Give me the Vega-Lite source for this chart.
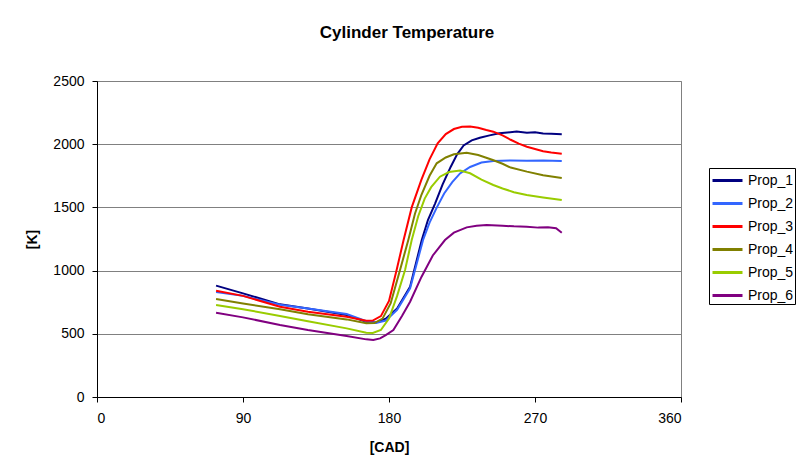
{
  "$schema": "https://vega.github.io/schema/vega-lite/v6.json",
  "width": 584,
  "height": 316,
  "autosize": "none",
  "padding": {"left": 97, "top": 81, "right": 116, "bottom": 72},
  "background": "white",
  "title": {
    "text": "Cylinder Temperature",
    "font": "Liberation Sans",
    "fontSize": 17,
    "fontWeight": "bold",
    "color": "black",
    "anchor": "middle",
    "baseline": "alphabetic",
    "offset": 19,
    "dx": 18
  },
  "config": {
    "view": {"stroke": "#808080", "strokeWidth": 1},
    "font": "Liberation Sans"
  },
  "datasets": {
    "temps": [
      {"s":"Prop_1","x":73.4,"y":881},{"s":"Prop_1","x":90,"y":820},{"s":"Prop_1","x":112.8,"y":733},{"s":"Prop_1","x":130,"y":700},{"s":"Prop_1","x":153.9,"y":649},{"s":"Prop_1","x":166,"y":596},{"s":"Prop_1","x":172,"y":590},{"s":"Prop_1","x":178,"y":620},{"s":"Prop_1","x":185,"y":700},{"s":"Prop_1","x":193,"y":873},{"s":"Prop_1","x":200.2,"y":1242},{"s":"Prop_1","x":204,"y":1400},{"s":"Prop_1","x":208.4,"y":1530},{"s":"Prop_1","x":213,"y":1680},{"s":"Prop_1","x":218,"y":1820},{"s":"Prop_1","x":222,"y":1920},{"s":"Prop_1","x":226,"y":1990},{"s":"Prop_1","x":231,"y":2030},{"s":"Prop_1","x":236,"y":2051},{"s":"Prop_1","x":242,"y":2070},{"s":"Prop_1","x":248,"y":2086},{"s":"Prop_1","x":253,"y":2092},{"s":"Prop_1","x":258.7,"y":2100},{"s":"Prop_1","x":265,"y":2090},{"s":"Prop_1","x":270,"y":2095},{"s":"Prop_1","x":275,"y":2085},{"s":"Prop_1","x":280,"y":2082},{"s":"Prop_1","x":286.5,"y":2078},

      {"s":"Prop_2","x":73.4,"y":830},{"s":"Prop_2","x":90,"y":800},{"s":"Prop_2","x":112.8,"y":730},{"s":"Prop_2","x":130,"y":700},{"s":"Prop_2","x":153.9,"y":656},{"s":"Prop_2","x":166,"y":600},{"s":"Prop_2","x":172,"y":585},{"s":"Prop_2","x":178,"y":605},{"s":"Prop_2","x":185,"y":690},{"s":"Prop_2","x":193,"y":860},{"s":"Prop_2","x":201,"y":1242},{"s":"Prop_2","x":205,"y":1380},{"s":"Prop_2","x":209.5,"y":1500},{"s":"Prop_2","x":214,"y":1610},{"s":"Prop_2","x":219,"y":1700},{"s":"Prop_2","x":223.8,"y":1769},{"s":"Prop_2","x":230,"y":1820},{"s":"Prop_2","x":237,"y":1855},{"s":"Prop_2","x":244.3,"y":1868},{"s":"Prop_2","x":255,"y":1872},{"s":"Prop_2","x":265,"y":1870},{"s":"Prop_2","x":275,"y":1872},{"s":"Prop_2","x":286.5,"y":1868},

      {"s":"Prop_3","x":73.4,"y":841},{"s":"Prop_3","x":90,"y":800},{"s":"Prop_3","x":112.8,"y":714},{"s":"Prop_3","x":130,"y":675},{"s":"Prop_3","x":153.9,"y":635},{"s":"Prop_3","x":166,"y":604},{"s":"Prop_3","x":170,"y":605},{"s":"Prop_3","x":175,"y":640},{"s":"Prop_3","x":180,"y":760},{"s":"Prop_3","x":184.7,"y":1005},{"s":"Prop_3","x":189,"y":1242},{"s":"Prop_3","x":194,"y":1500},{"s":"Prop_3","x":200,"y":1720},{"s":"Prop_3","x":205,"y":1880},{"s":"Prop_3","x":210,"y":2007},{"s":"Prop_3","x":215,"y":2080},{"s":"Prop_3","x":220,"y":2120},{"s":"Prop_3","x":225,"y":2138},{"s":"Prop_3","x":230,"y":2140},{"s":"Prop_3","x":235,"y":2130},{"s":"Prop_3","x":240,"y":2112},{"s":"Prop_3","x":244.3,"y":2099},{"s":"Prop_3","x":250,"y":2070},{"s":"Prop_3","x":255,"y":2035},{"s":"Prop_3","x":260,"y":2005},{"s":"Prop_3","x":265,"y":1980},{"s":"Prop_3","x":270,"y":1962},{"s":"Prop_3","x":275,"y":1945},{"s":"Prop_3","x":280,"y":1935},{"s":"Prop_3","x":286.5,"y":1925},

      {"s":"Prop_4","x":73.4,"y":775},{"s":"Prop_4","x":90,"y":740},{"s":"Prop_4","x":112.8,"y":694},{"s":"Prop_4","x":130,"y":655},{"s":"Prop_4","x":153.9,"y":614},{"s":"Prop_4","x":166,"y":583},{"s":"Prop_4","x":171,"y":585},{"s":"Prop_4","x":176,"y":620},{"s":"Prop_4","x":181,"y":740},{"s":"Prop_4","x":186.8,"y":1005},{"s":"Prop_4","x":191.9,"y":1242},{"s":"Prop_4","x":196,"y":1450},{"s":"Prop_4","x":200,"y":1600},{"s":"Prop_4","x":205,"y":1750},{"s":"Prop_4","x":209.4,"y":1849},{"s":"Prop_4","x":215,"y":1895},{"s":"Prop_4","x":220,"y":1920},{"s":"Prop_4","x":227.9,"y":1933},{"s":"Prop_4","x":235,"y":1915},{"s":"Prop_4","x":244,"y":1875},{"s":"Prop_4","x":250,"y":1845},{"s":"Prop_4","x":255,"y":1815},{"s":"Prop_4","x":265,"y":1783},{"s":"Prop_4","x":275,"y":1755},{"s":"Prop_4","x":286.5,"y":1732},

      {"s":"Prop_5","x":73.4,"y":728},{"s":"Prop_5","x":90,"y":695},{"s":"Prop_5","x":112.8,"y":641},{"s":"Prop_5","x":130,"y":600},{"s":"Prop_5","x":153.9,"y":543},{"s":"Prop_5","x":166,"y":509},{"s":"Prop_5","x":170,"y":506},{"s":"Prop_5","x":175,"y":530},{"s":"Prop_5","x":180,"y":620},{"s":"Prop_5","x":185,"y":800},{"s":"Prop_5","x":189.9,"y":1005},{"s":"Prop_5","x":194,"y":1242},{"s":"Prop_5","x":198,"y":1430},{"s":"Prop_5","x":202,"y":1570},{"s":"Prop_5","x":206,"y":1660},{"s":"Prop_5","x":211.4,"y":1743},{"s":"Prop_5","x":217,"y":1780},{"s":"Prop_5","x":223.8,"y":1791},{"s":"Prop_5","x":230,"y":1770},{"s":"Prop_5","x":237,"y":1720},{"s":"Prop_5","x":244.3,"y":1677},{"s":"Prop_5","x":250,"y":1650},{"s":"Prop_5","x":257,"y":1620},{"s":"Prop_5","x":264.9,"y":1598},{"s":"Prop_5","x":275,"y":1578},{"s":"Prop_5","x":286.5,"y":1558},

      {"s":"Prop_6","x":73.4,"y":667},{"s":"Prop_6","x":90,"y":630},{"s":"Prop_6","x":112.8,"y":570},{"s":"Prop_6","x":130,"y":530},{"s":"Prop_6","x":153.9,"y":482},{"s":"Prop_6","x":166,"y":456},{"s":"Prop_6","x":170.3,"y":451},{"s":"Prop_6","x":174.5,"y":464},{"s":"Prop_6","x":178,"y":490},{"s":"Prop_6","x":182.7,"y":530},{"s":"Prop_6","x":188,"y":640},{"s":"Prop_6","x":193,"y":754},{"s":"Prop_6","x":200,"y":950},{"s":"Prop_6","x":207,"y":1120},{"s":"Prop_6","x":214.5,"y":1242},{"s":"Prop_6","x":220,"y":1300},{"s":"Prop_6","x":227.9,"y":1342},{"s":"Prop_6","x":234,"y":1355},{"s":"Prop_6","x":240.2,"y":1361},{"s":"Prop_6","x":250,"y":1355},{"s":"Prop_6","x":257,"y":1350},{"s":"Prop_6","x":264.9,"y":1347},{"s":"Prop_6","x":272,"y":1340},{"s":"Prop_6","x":278,"y":1342},{"s":"Prop_6","x":283,"y":1335},{"s":"Prop_6","x":286.5,"y":1300}
    ]
  },
  "data": {"name": "temps"},
  "mark": {"type": "line", "strokeWidth": 2, "clip": true},
  "encoding": {
    "x": {
      "field": "x",
      "type": "quantitative",
      "scale": {"domain": [0, 360], "nice": false, "zero": false},
      "axis": {
        "values": [0, 90, 180, 270, 360],
        "format": "d",
        "grid": false,
        "domainColor": "black",
        "tickColor": "black",
        "tickSize": 5,
        "labelPadding": 9,
        "labelFont": "Liberation Sans",
        "labelFontSize": 14,
        "labelColor": "black",
        "title": "[CAD]",
        "titleFont": "Liberation Sans",
        "titleFontSize": 14,
        "titleFontWeight": "bold",
        "titleColor": "black",
        "titleX": 292,
        "titleY": 50,
        "titleBaseline": "middle",
        "titleAlign": "center"
      }
    },
    "y": {
      "field": "y",
      "type": "quantitative",
      "scale": {"domain": [0, 2500], "nice": false},
      "axis": {
        "values": [0, 500, 1000, 1500, 2000, 2500],
        "format": "d",
        "grid": true,
        "gridColor": "#808080",
        "gridWidth": 1,
        "gridOpacity": 1,
        "domainColor": "black",
        "tickColor": "black",
        "tickSize": 5,
        "labelPadding": 8,
        "labelFont": "Liberation Sans",
        "labelFontSize": 14,
        "labelColor": "black",
        "title": "[K]",
        "titleFont": "Liberation Sans",
        "titleFontSize": 14,
        "titleFontWeight": "bold",
        "titleColor": "black",
        "titleAngle": 270,
        "titleX": -65,
        "titleY": 158,
        "titleBaseline": "middle",
        "titleAlign": "center"
      }
    },
    "color": {
      "field": "s",
      "type": "nominal",
      "scale": {
        "domain": ["Prop_1", "Prop_2", "Prop_3", "Prop_4", "Prop_5", "Prop_6"],
        "range": ["#000080", "#3366FF", "#FF0000", "#808000", "#99CC00", "#800080"]
      },
      "legend": {
        "title": null,
        "orient": "none",
        "legendX": 612,
        "legendY": 87,
        "symbolType": "M-0.9,0L2.1,0",
        "symbolSize": 400,
        "symbolStrokeWidth": 3,
        "labelFont": "Liberation Sans",
        "labelFontSize": 14,
        "labelColor": "black",
        "labelOffset": 15,
        "labelLimit": 200,
        "rowPadding": 4,
        "padding": 1,
        "strokeColor": "black",
        "fillColor": "white"
      }
    }
  }
}
